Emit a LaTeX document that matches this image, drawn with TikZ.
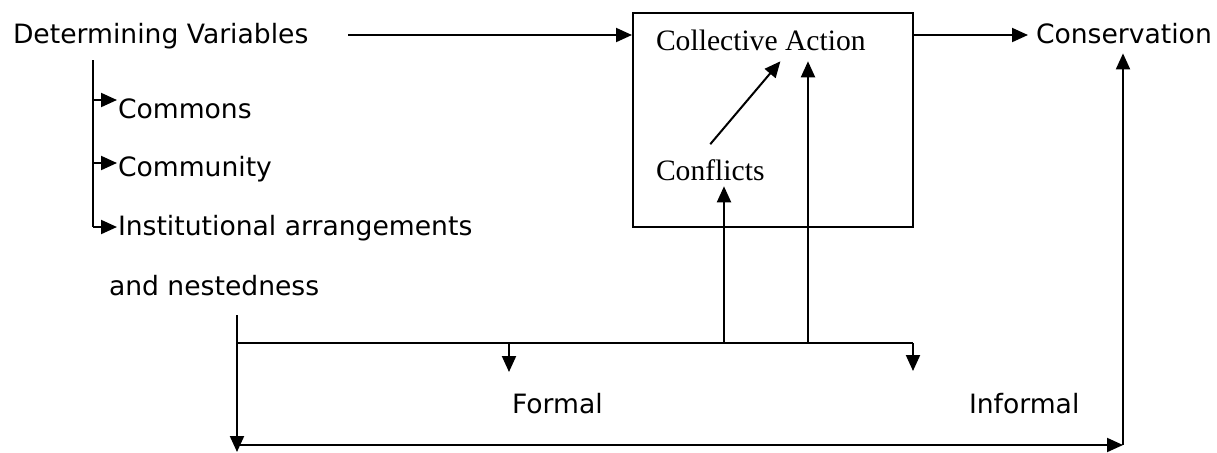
\documentclass[tikz,border=0pt]{standalone}
\usepackage{fontspec}
\setmainfont{DejaVu Sans}
\newfontfamily\timesfont{Liberation Serif}
\usetikzlibrary{positioning,arrows.meta}

\begin{document}
\begin{tikzpicture}[
    x=0.5pt, y=-0.5pt, line width=1pt,
    txt/.style={inner sep=0pt, anchor=base west, font=\fontsize{13.3}{15}\selectfont},
    serif/.style={inner sep=0pt, anchor=base west, font=\timesfont\fontsize{14.8}{17}\selectfont},
    arr/.style={-{Triangle[length=8pt,width=7pt]}}
]
\useasboundingbox (0,0) rectangle (1217,452);

  % Left column of variables
  \node[txt] (dv) at (12,43) {Determining Variables};
  \node[txt] (commons) at (117,118) {Commons};
  \node[txt] (community) at (117,176) {Community};
  \node[txt] (inst) at (117,235) {Institutional arrangements};
  \node[txt] (nested) at (108,295) {and nestedness};

  \coordinate (brtop) at (93,60);
  \coordinate (b1) at (93,100);
  \coordinate (b2) at (93,163);
  \coordinate (b3) at (93,227);
  \draw (brtop) -- (b3);
  \draw[arr] (b1) -- (b1 -| commons.west);
  \draw[arr] (b2) -- (b2 -| community.west);
  \draw[arr] (b3) -- (b3 -| inst.west);

  % Box with collective action and conflicts
  \node[draw, inner sep=0pt, minimum width=140pt, minimum height=107pt] (box) at (773,120) {};
  \node[serif] (collective) at (655,50) {Collective Action};
  \node[serif] (conflicts) at (655,180) {Conflicts};
  \draw[arr] ([yshift=7pt]conflicts.north) -- ([xshift=9.8pt,yshift=-5pt]collective.south);

  \node[txt] (conservation) at (1035,43) {Conservation};

  \coordinate (dvout) at (348,35);
  \draw[arr] (dvout) -- (box.west |- dvout);
  \draw[arr, shorten >=3.5pt] (box.east |- dvout) -- (conservation.west |- dvout);

  % Formal and informal
  \node[txt] (formal) at (511,413) {Formal};
  \node[txt] (informal) at (968,413) {Informal};

  \coordinate (ltop) at (237,315);
  \coordinate (lmid) at (237,343);
  \coordinate (lbot) at (237,445);
  \coordinate (rmid) at (913,343);
  \coordinate (fm) at (509,343);
  \coordinate (up1) at (724,343);
  \coordinate (up2) at (808,343);
  \coordinate (rbot) at (1123,445);

  \draw[arr] (ltop) -- ([yshift=-3.5pt]lbot);
  \draw (lmid) -- (rmid);
  \draw[arr] (fm) -- ++(0,29);
  \draw[arr] (rmid) -- ++(0,28);
  \draw[arr, shorten >=2.5pt] (up1) -- (up1 |- conflicts.south);
  \draw[arr, shorten >=5pt] (up2) -- (up2 |- collective.south);
  \draw[arr] (lbot) -- (rbot);
  \draw[arr, shorten >=4.5pt] (rbot) -- (rbot |- conservation.south);
\end{tikzpicture}
\end{document}
